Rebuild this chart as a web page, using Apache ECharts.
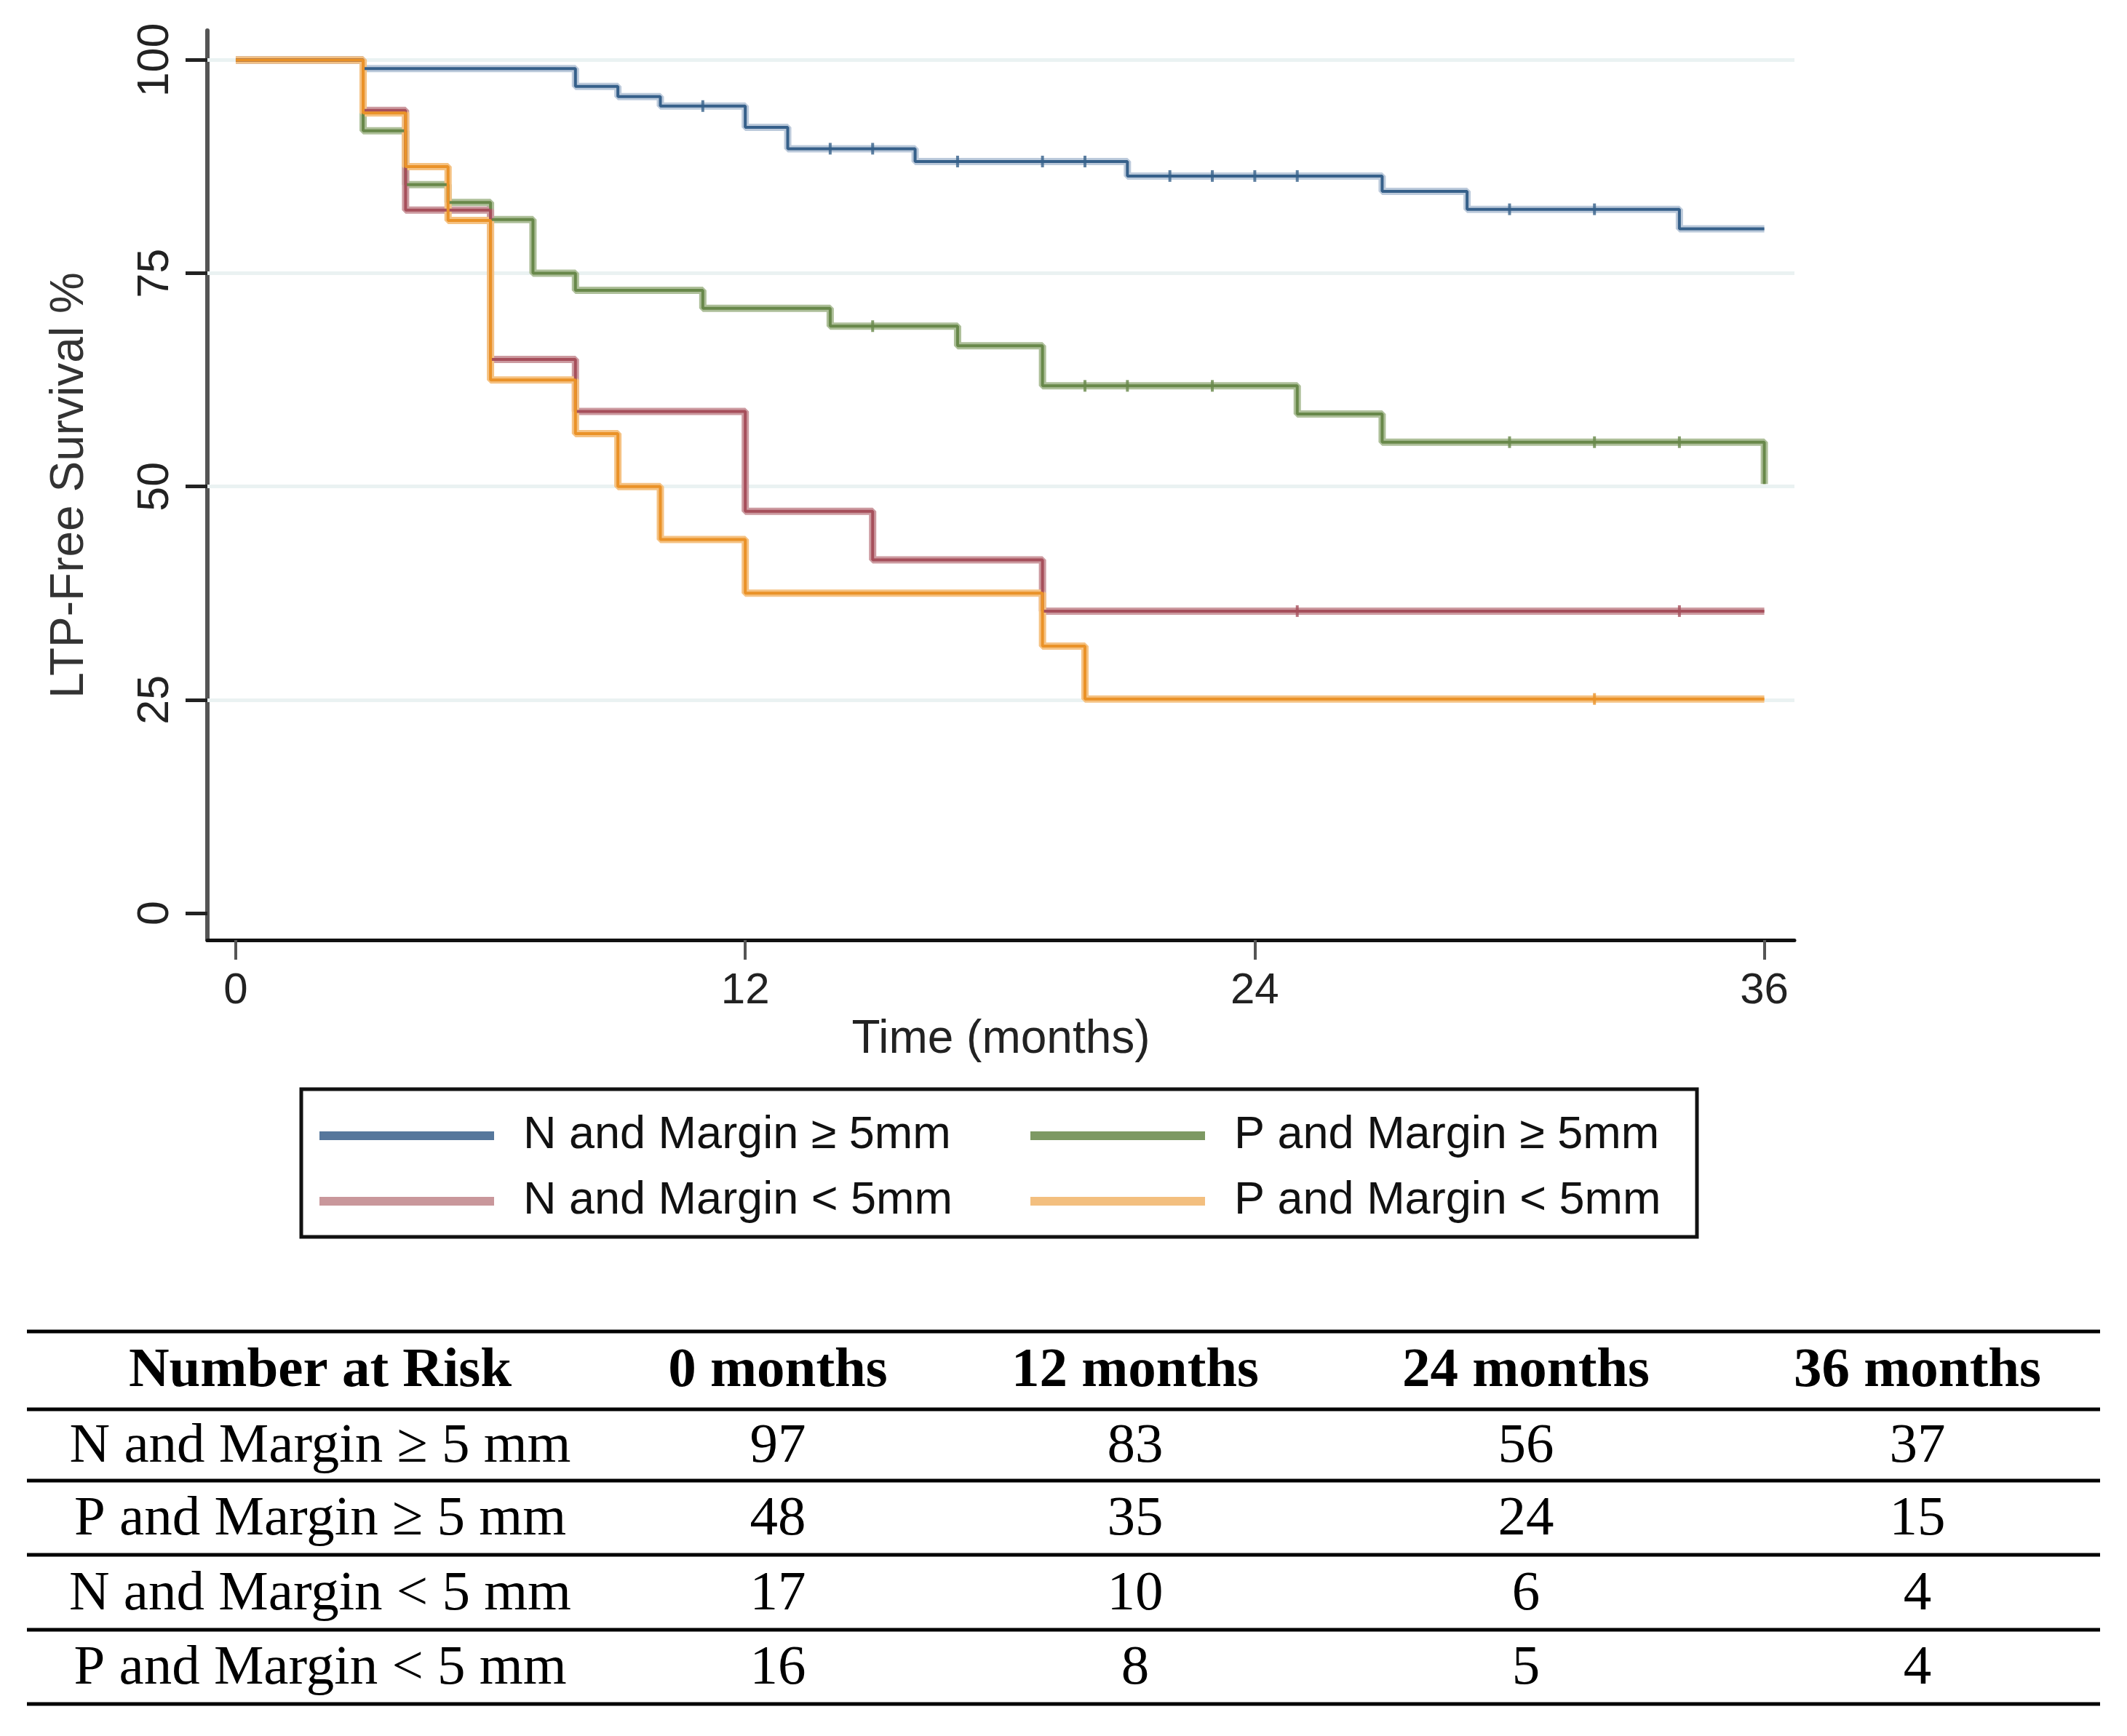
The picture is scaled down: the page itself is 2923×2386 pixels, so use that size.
<!DOCTYPE html>
<html><head><meta charset="utf-8">
<script src="https://cdn.jsdelivr.net/npm/echarts@6/dist/echarts.min.js"></script>
<style>html,body{margin:0;padding:0;background:#fff}#c{width:2923px;height:2386px}</style>
</head><body><div id="c"></div>
<script>
// ---------- DATA ----------
const groupNames = ['N and Margin \u2265 5mm', 'P and Margin \u2265 5mm', 'N and Margin < 5mm', 'P and Margin < 5mm'];

const nGe5Times = [0, 3, 8, 9, 10, 12, 13, 16, 21, 27, 29, 34, 36];
const nGe5Surv  = [100, 99.0, 96.9, 95.7, 94.6, 92.1, 89.6, 88.1, 86.4, 84.6, 82.5, 80.2, 80.2];
const nGe5Censor = [11, 14, 15, 17, 19, 20, 22, 23, 24, 25, 30, 32];

const pGe5Times = [0, 3, 4, 5, 6, 7, 8, 11, 14, 17, 19, 25, 27, 36];
const pGe5Surv  = [100, 91.7, 85.4, 83.3, 81.3, 75.0, 73.0, 70.9, 68.8, 66.5, 61.8, 58.5, 55.2, 50.3];
const pGe5Censor = [15, 20, 21, 23, 30, 32, 34];

const nLt5Times = [0, 3, 4, 6, 8, 12, 15, 19, 36];
const nLt5Surv  = [100, 94.1, 82.4, 64.9, 58.8, 47.1, 41.4, 35.4, 35.4];
const nLt5Censor = [25, 34];

const pLt5Times = [0, 3, 4, 5, 6, 8, 9, 10, 12, 19, 20, 36];
const pLt5Surv  = [100, 93.8, 87.5, 81.2, 62.5, 56.2, 50.0, 43.8, 37.5, 31.3, 25.1, 25.1];
const pLt5Censor = [32];

const xTickValues = [0, 12, 24, 36];
const yTickValues = [0, 25, 50, 75, 100];
const gridValues = [25, 50, 75, 100];

const riskHeader = ['Number at Risk', '0 months', '12 months', '24 months', '36 months'];
const riskLabels = ['N and Margin \u2265 5 mm', 'P and Margin \u2265 5 mm', 'N and Margin < 5 mm', 'P and Margin < 5 mm'];
const riskNGe5 = [97, 83, 56, 37];
const riskPGe5 = [48, 35, 24, 15];
const riskNLt5 = [17, 10, 6, 4];
const riskPLt5 = [16, 8, 5, 4];

// ---------- STYLE ----------
const sans = '"Liberation Sans", Arial, sans-serif';
const serif = '"Liberation Serif", "Times New Roman", serif';

const groups = [
  {t: nGe5Times, s: nGe5Surv, c: nGe5Censor, core: '#36608a', band: '#bccadb', mid: '#56779c'},
  {t: pGe5Times, s: pGe5Surv, c: pGe5Censor, core: '#68884a', band: '#adbf99', mid: '#7d9963'},
  {t: nLt5Times, s: nLt5Surv, c: nLt5Censor, core: '#a64f5b', band: '#cc9aa0', mid: '#c9979b'},
  {t: pLt5Times, s: pLt5Surv, c: pLt5Censor, core: '#ea9228', band: '#f5c283', mid: '#f3bf7f'}
];

function survAt(t, s, x) { let v = s[0]; for (let i = 0; i < t.length; i++) if (t[i] <= x) v = s[i]; return v; }

const series = [{
  type: 'line', data: [], silent: true, z: 1,
  markLine: {silent: true, z: 1, symbol: 'none', label: {show: false}, animation: false,
    lineStyle: {color: '#eaf2f2', width: 5, type: 'solid'},
    data: gridValues.map(v => ({yAxis: v}))}
}];
groups.forEach((g, i) => {
  const pts = g.t.map((x, k) => [x, g.s[k]]);
  series.push({name: groupNames[i], type: 'line', step: 'end', data: pts, showSymbol: false, symbol: 'none',
    lineStyle: {color: g.band, width: 10}, itemStyle: {color: g.mid}, z: 3, silent: true});
  series.push({name: groupNames[i], type: 'line', step: 'end', data: pts, showSymbol: false, symbol: 'none',
    lineStyle: {color: g.core, width: 4}, itemStyle: {color: g.core}, z: 4, silent: true});
  series.push({name: groupNames[i], type: 'scatter', data: g.c.map(x => [x, survAt(g.t, g.s, x)]),
    symbol: 'rect', symbolSize: [4, 16], itemStyle: {color: g.core, opacity: 0.8}, z: 5, silent: true});
});

// ---------- TABLE (graphic) ----------
const colX = [440, 1069, 1560, 2097, 2635];
const ruleYs = [1830, 1937, 2035, 2137, 2240, 2342];
const graphic = [];
ruleYs.forEach(y => graphic.push({type: 'line', shape: {x1: 37, y1: y, x2: 2886, y2: y}, style: {stroke: '#000', lineWidth: 5}}));
riskHeader.forEach((h, j) => graphic.push({type: 'text', x: colX[j], y: (ruleYs[0] + ruleYs[1]) / 2 + 2,
  style: {text: h, align: 'center', verticalAlign: 'middle', font: 'bold 77px ' + serif, fill: '#000'}}));
const riskRows = [riskNGe5, riskPGe5, riskNLt5, riskPLt5];
riskRows.forEach((row, r) => {
  const y = (ruleYs[r + 1] + ruleYs[r + 2]) / 2 + 3;
  graphic.push({type: 'text', x: colX[0], y: y, style: {text: riskLabels[r], align: 'center', verticalAlign: 'middle', font: '77px ' + serif, fill: '#000'}});
  row.forEach((v, j) => graphic.push({type: 'text', x: colX[j + 1], y: y, style: {text: String(v), align: 'center', verticalAlign: 'middle', font: '77px ' + serif, fill: '#000'}}));
});

const chart = echarts.init(document.getElementById('c'), null, {renderer: 'canvas'});
chart.setOption({
  animation: false,
  backgroundColor: '#fff',
  grid: {left: 285, right: 457, top: 42, bottom: 1094, containLabel: false},
  xAxis: {
    type: 'value', min: -0.668, max: 36.71,
    name: 'Time (months)', nameLocation: 'middle', nameGap: 94,
    nameTextStyle: {fontFamily: sans, fontSize: 64, color: '#222'},
    axisLine: {show: true, onZero: false, lineStyle: {color: '#111', width: 5}},
    axisTick: {show: true, customValues: xTickValues, length: 27, lineStyle: {color: '#555', width: 4}},
    axisLabel: {customValues: xTickValues, margin: 40, fontFamily: sans, fontSize: 60, color: '#222'},
    splitLine: {show: false}
  },
  yAxis: {
    type: 'value', min: -3.16, max: 103.45,
    name: 'LTP-Free Survival %', nameLocation: 'middle', nameGap: 157, nameRotate: 90,
    nameTextStyle: {fontFamily: sans, fontSize: 64, color: '#333'},
    axisLine: {show: true, onZero: false, lineStyle: {color: '#555', width: 6}},
    axisTick: {show: true, customValues: yTickValues, length: 30, lineStyle: {color: '#222', width: 5}},
    axisLabel: {customValues: yTickValues, rotate: 90, margin: 40, fontFamily: sans, fontSize: 61, color: '#222'},
    splitLine: {show: false}
  },
  legend: {
    left: 414, top: 1497, orient: 'horizontal', width: 1960,
    padding: [29, 36, 14, 25], itemGap: 20,
    borderColor: '#111', borderWidth: 5, backgroundColor: '#fff',
    icon: 'rect', itemWidth: 240, itemHeight: 12,
    selectedMode: false,
    textStyle: {fontFamily: sans, fontSize: 63, color: '#111', lineHeight: 70, padding: [0, 0, 0, 35]},
    data: groupNames.map((n, i) => ({name: n, itemStyle: {color: groups[i].mid},
      textStyle: {width: (i % 2 === 0) ? 677 : 600, overflow: 'none'}}))
  },
  graphic: graphic,
  series: series
});
</script>
</body></html>
